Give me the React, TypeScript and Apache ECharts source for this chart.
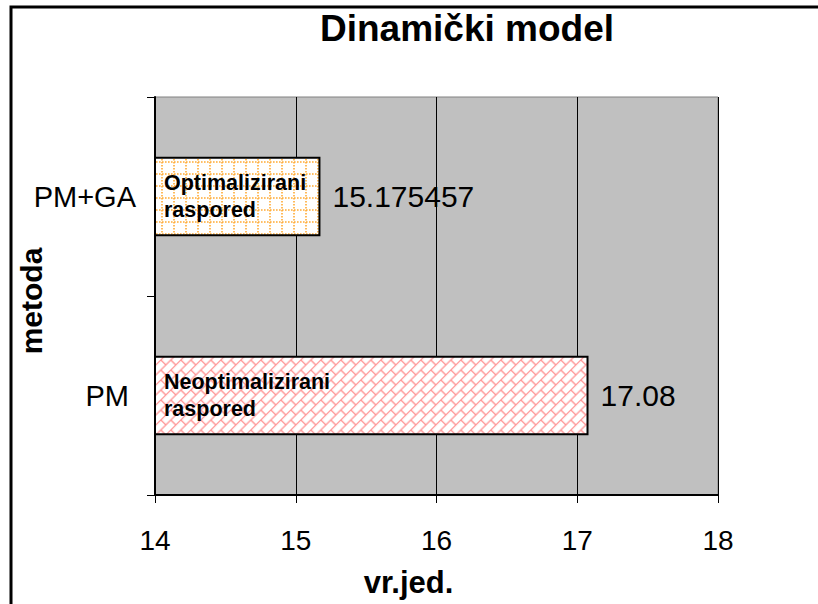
import React, { useEffect, useRef } from "react";
import * as echarts from "echarts";

const methods = ["PM", "PM+GA"];
const values = [17.08, 15.175457];
const valueLabels = ["17.08", "15.175457"];
const barTexts = ["Neoptimalizirani\nraspored", "Optimalizirani\nraspored"];
const xTicks = [14, 15, 16, 17, 18];
const titleText = "Dinamički model";
const xName = "vr.jed.";
const yName = "metoda";

const FONT = "Liberation Sans, Arial, sans-serif";

const svgUrl = (s: string) => "data:image/svg+xml;charset=utf-8," + encodeURIComponent(s);

const brickSvg =
  "<svg xmlns='http://www.w3.org/2000/svg' width='20' height='20'>" +
  "<defs><pattern id='b' width='14.1421356' height='14.1421356' patternUnits='userSpaceOnUse' patternTransform='rotate(-45)'>" +
  "<path d='M0 0.6H14.1421356M0 7.6710678H14.1421356M0.6 0V7.0710678M7.6710678 7.0710678V14.1421356' stroke='#ff8c8c' stroke-width='1.3' fill='none'/>" +
  "</pattern></defs>" +
  "<rect width='20' height='20' fill='#ffffff'/><rect width='20' height='20' fill='url(#b)'/></svg>";

const dotSvg =
  "<svg xmlns='http://www.w3.org/2000/svg' width='12' height='12'>" +
  "<rect width='12' height='12' fill='#ffffff'/>" +
  "<path d='M0 6H12' stroke='#ffaa33' stroke-width='1.6' stroke-dasharray='1.6 1.4' fill='none'/>" +
  "<path d='M6 0V12' stroke='#ffaa33' stroke-width='1.6' stroke-dasharray='1.6 1.4' fill='none'/>" +
  "</svg>";

export default function App() {
  const ref = useRef<HTMLDivElement>(null);
  useEffect(() => {
    if (!ref.current) return;
    const chart = echarts.init(ref.current, undefined, { renderer: "svg" });
    const patterns = [
      { image: svgUrl(brickSvg), repeat: "repeat", imageWidth: 20, imageHeight: 20 },
      { image: svgUrl(dotSvg), repeat: "repeat", imageWidth: 12, imageHeight: 12 },
    ];
    const catPadding = [[0, 7, 0, 0], [0, 0, 0, 0]];
    chart.setOption({
      animation: false,
      backgroundColor: "#ffffff",
      title: {
        text: titleText,
        left: 315,
        top: 5,
        textStyle: { fontFamily: FONT, fontSize: 37, fontWeight: "bold", color: "#000" },
      },
      graphic: [
        {
          type: "rect",
          shape: { x: 11, y: 7, width: 830, height: 620 },
          style: { fill: "none", stroke: "#000", lineWidth: 3 },
          silent: true,
        },
      ],
      grid: {
        left: 155,
        right: 100,
        top: 97,
        bottom: 109,
        show: true,
        containLabel: false,
        outerBoundsMode: "none",
        backgroundColor: "#c0c0c0",
        borderColor: "#808080",
        borderWidth: 1,
      },
      xAxis: {
        type: "value",
        min: xTicks[0],
        max: xTicks[xTicks.length - 1],
        interval: 1,
        name: xName,
        nameLocation: "middle",
        nameGap: 72,
        nameMoveOverlap: false,
        nameTextStyle: {
          fontFamily: FONT,
          fontSize: 31,
          fontWeight: "bold",
          color: "#000",
          padding: [0, 56, 0, 0],
        },
        axisLine: { show: true, lineStyle: { color: "#000", width: 2 } },
        axisTick: { show: true, length: 8, lineStyle: { color: "#000", width: 1 } },
        axisLabel: { fontFamily: FONT, fontSize: 28, color: "#000", margin: 31 },
        splitLine: { show: true, lineStyle: { color: "#000", width: 1 } },
      },
      yAxis: {
        type: "category",
        data: methods.map((m, i) => ({ value: m, textStyle: { padding: catPadding[i] } })),
        name: yName,
        nameLocation: "middle",
        nameGap: 109,
        nameMoveOverlap: false,
        nameTextStyle: {
          fontFamily: FONT,
          fontSize: 30,
          fontWeight: "bold",
          color: "#000",
          padding: [0, 10, 0, 0],
        },
        axisLine: { show: true, lineStyle: { color: "#000", width: 2 } },
        axisTick: { show: true, length: 8, lineStyle: { color: "#000", width: 1 } },
        axisLabel: { fontFamily: FONT, fontSize: 29, color: "#000", margin: 19 },
        splitLine: { show: false },
      },
      series: [
        {
          type: "bar",
          barWidth: "40%",
          clip: true,
          data: values.map((v, i) => ({
            value: v,
            itemStyle: { color: patterns[i], borderColor: "#000", borderWidth: 2 },
          })),
          label: {
            show: true,
            position: "insideLeft",
            distance: 10,
            formatter: (p: any) => barTexts[p.dataIndex],
            fontFamily: FONT,
            fontSize: 21.5,
            fontWeight: "bold",
            lineHeight: 27,
            color: "#000",
          },
        },
        {
          type: "bar",
          barWidth: "40%",
          barGap: "-100%",
          clip: true,
          silent: true,
          data: values,
          itemStyle: { color: "rgba(0,0,0,0)" },
          label: {
            show: true,
            position: "right",
            distance: 12,
            formatter: (p: any) => valueLabels[p.dataIndex],
            fontFamily: FONT,
            fontSize: 30,
            color: "#000",
          },
        },
      ],
    });
    return () => chart.dispose();
  }, []);
  return (
    <div
      ref={ref}
      style={{ position: "absolute", left: 0, top: 0, width: 818, height: 604, background: "#fff" }}
    />
  );
}
